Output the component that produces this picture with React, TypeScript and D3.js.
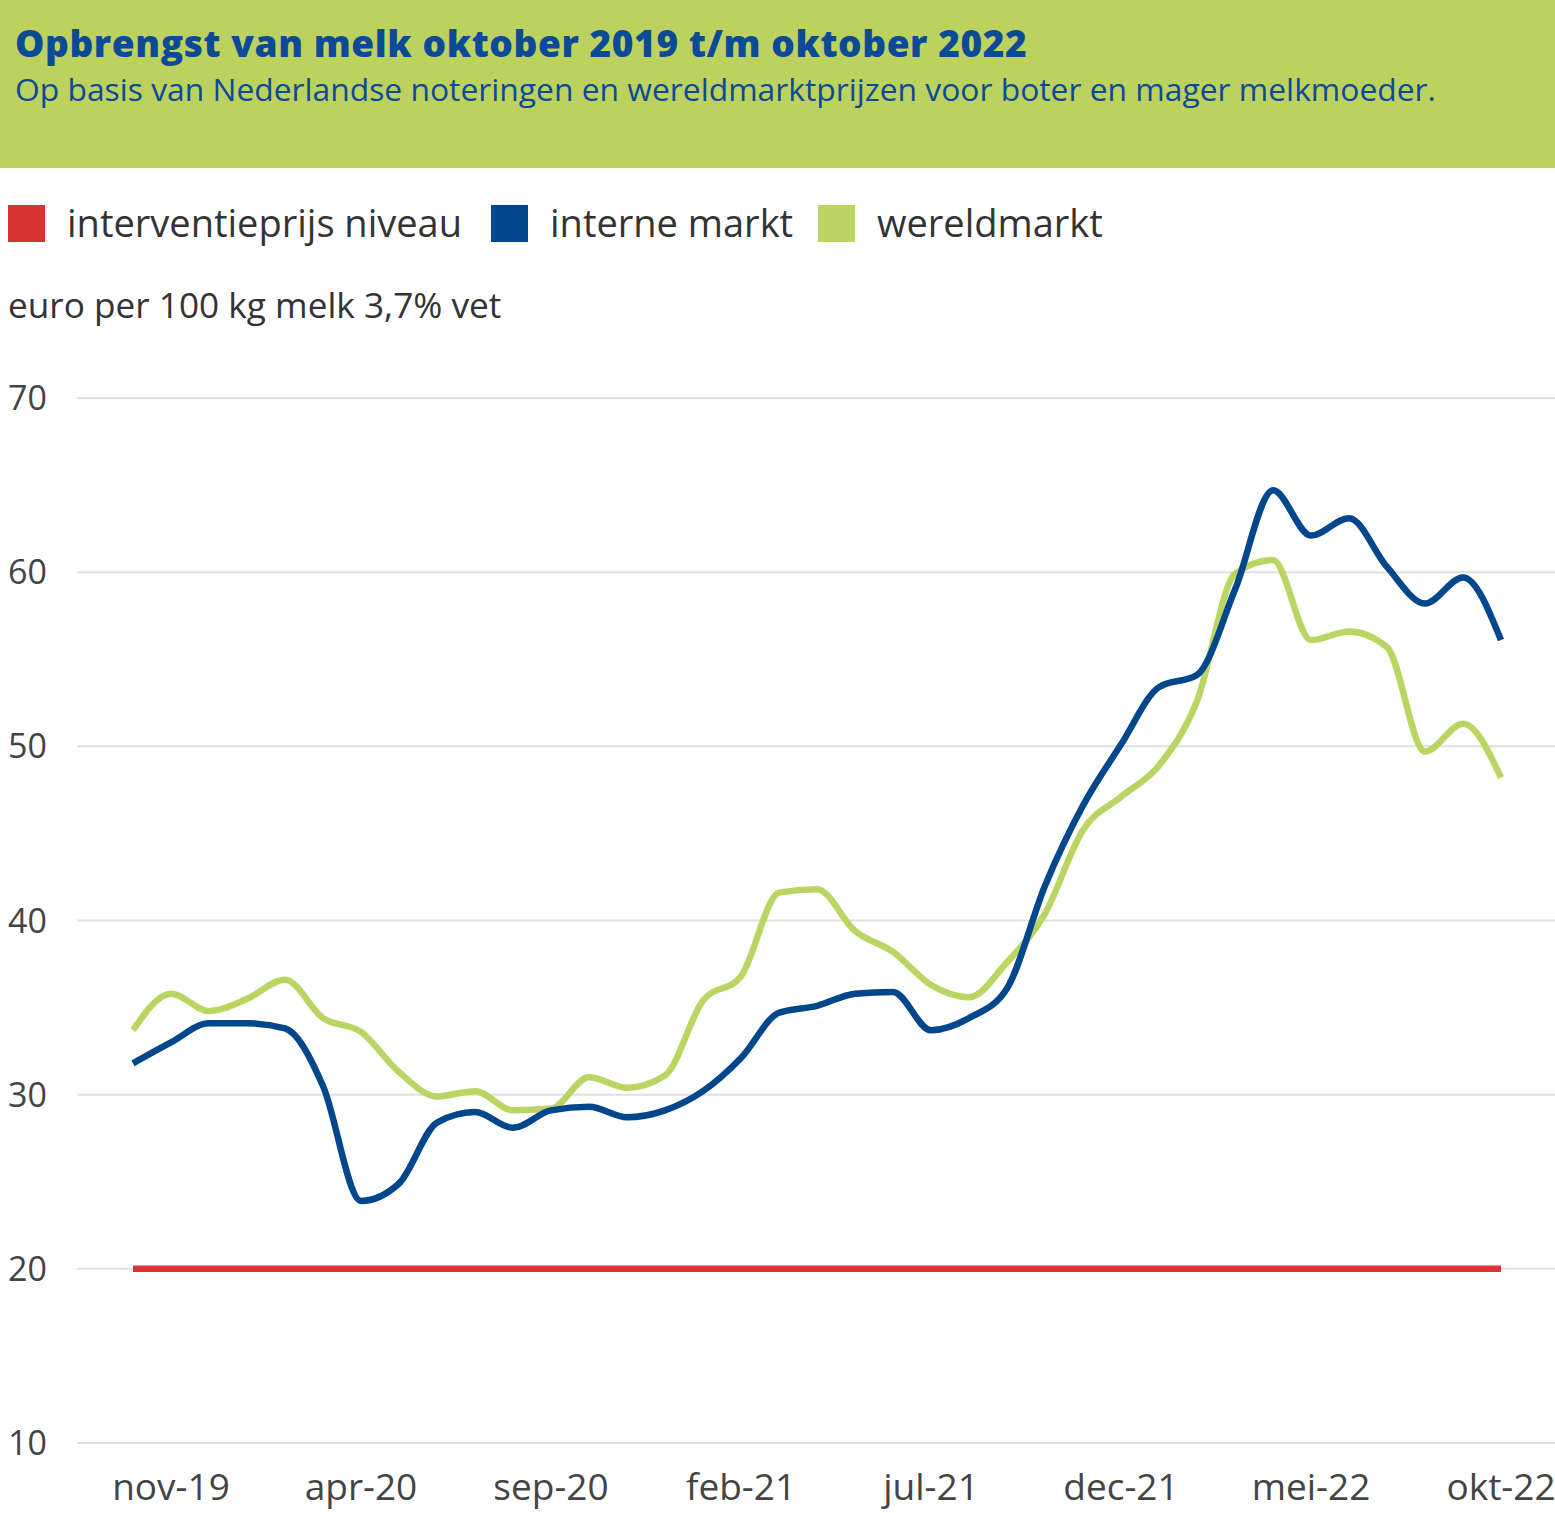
import React, { useEffect, useRef } from "react";
import * as d3 from "d3";

const months = [
  "okt-19","nov-19","dec-19","jan-20","feb-20","mrt-20","apr-20","mei-20","jun-20","jul-20","aug-20","sep-20",
  "okt-20","nov-20","dec-20","jan-21","feb-21","mrt-21","apr-21","mei-21","jun-21","jul-21","aug-21","sep-21",
  "okt-21","nov-21","dec-21","jan-22","feb-22","mrt-22","apr-22","mei-22","jun-22","jul-22","aug-22","sep-22","okt-22"
];
const interneMarkt = [
  31.8,33.0,34.1,34.1,33.8,30.5,23.9,24.9,28.4,29.0,28.1,29.1,
  29.3,28.7,29.1,30.2,32.1,34.7,35.1,35.8,35.9,33.7,34.4,36.1,
  42.0,46.6,50.1,53.4,54.1,59.0,64.7,62.1,63.1,60.3,58.2,59.7,56.1
];
const wereldmarkt = [
  33.7,35.8,34.8,35.5,36.6,34.4,33.6,31.3,29.9,30.2,29.1,29.2,
  31.0,30.4,31.1,35.4,36.8,41.6,41.8,39.4,38.2,36.3,35.6,37.6,
  40.4,45.2,47.1,48.9,52.6,59.9,60.7,56.1,56.6,55.7,49.7,51.3,48.2
];
const interventie = months.map(() => 20);
const yTicks = [10, 20, 30, 40, 50, 60, 70];
const xTickLabels = ["nov-19","apr-20","sep-20","feb-21","jul-21","dec-21","mei-22","okt-22"];
const legendItems = [
  { label: "interventieprijs niveau", color: "#d93433" },
  { label: "interne markt", color: "#02468c" },
  { label: "wereldmarkt", color: "#bbd563" },
];

const W = 1555, H = 1513;

export default function App() {
  const ref = useRef<SVGSVGElement>(null);
  useEffect(() => {
    document.body.style.margin = "0";
    const svg = d3.select(ref.current);
    svg.selectAll("*").remove();
    const font = "'Source Sans Pro', 'Open Sans', 'Noto Sans', sans-serif";

    // header
    svg.append("rect").attr("x", 0).attr("y", 0).attr("width", W).attr("height", 168).attr("fill", "#bdd15f");
    svg.append("text").attr("x", 15).attr("y", 57).attr("fill", "#0b4a96")
      .attr("font-family", "'Open Sans', sans-serif").attr("font-weight", 800).attr("font-size", 37)
      .attr("letter-spacing", 0.6)
      .text("Opbrengst van melk oktober 2019 t/m oktober 2022");
    svg.append("text").attr("x", 15).attr("y", 101).attr("fill", "#0b4a96")
      .attr("font-family", "'Open Sans', sans-serif").attr("font-size", 31.8)
      .text("Op basis van Nederlandse noteringen en wereldmarktprijzen voor boter en mager melkmoeder.");

    // legend
    const legendX = [8, 491, 818];
    legendItems.forEach((it, i) => {
      const g = svg.append("g").attr("transform", `translate(${legendX[i]},0)`);
      g.append("rect").attr("x", 0).attr("y", 205).attr("width", 37).attr("height", 37).attr("fill", it.color);
      g.append("text").attr("x", 59).attr("y", 237).attr("fill", "#333")
        .attr("font-family", font).attr("font-size", 38).text(it.label);
    });
    svg.append("text").attr("x", 8).attr("y", 318).attr("fill", "#333")
      .attr("font-family", font).attr("font-size", 35.2).text("euro per 100 kg melk 3,7% vet");

    const x = d3.scalePoint<string>().domain(months).range([133, 1501]);
    const y = d3.scaleLinear().domain([10, 70]).range([1443, 398]);

    // grid
    const grid = svg.append("g");
    yTicks.forEach((t) => {
      grid.append("line").attr("x1", 77).attr("x2", W).attr("y1", y(t)).attr("y2", y(t))
        .attr("stroke", "#e0e0e0").attr("stroke-width", 2);
      grid.append("text").attr("x", 8).attr("y", y(t) + 12).attr("fill", "#444")
        .attr("font-family", font).attr("font-size", 34).text(String(t));
    });
    xTickLabels.forEach((m) => {
      svg.append("text").attr("x", x(m)!).attr("y", 1500).attr("text-anchor", "middle")
        .attr("fill", "#444").attr("font-family", font).attr("font-size", 37).text(m);
    });

    const line = d3.line<number>().x((_, i) => x(months[i])!).y((d) => y(d)).curve(d3.curveMonotoneX);
    const series = [
      { data: interventie, color: legendItems[0].color },
      { data: wereldmarkt, color: legendItems[2].color },
      { data: interneMarkt, color: legendItems[1].color },
    ];
    series.forEach((s) => {
      svg.append("path").attr("d", line(s.data)!).attr("fill", "none").attr("stroke", s.color)
        .attr("stroke-width", 6.5).attr("stroke-linejoin", "round");
    });
  }, []);
  return <svg ref={ref} width={W} height={H} style={{ display: "block" }} />;
}
